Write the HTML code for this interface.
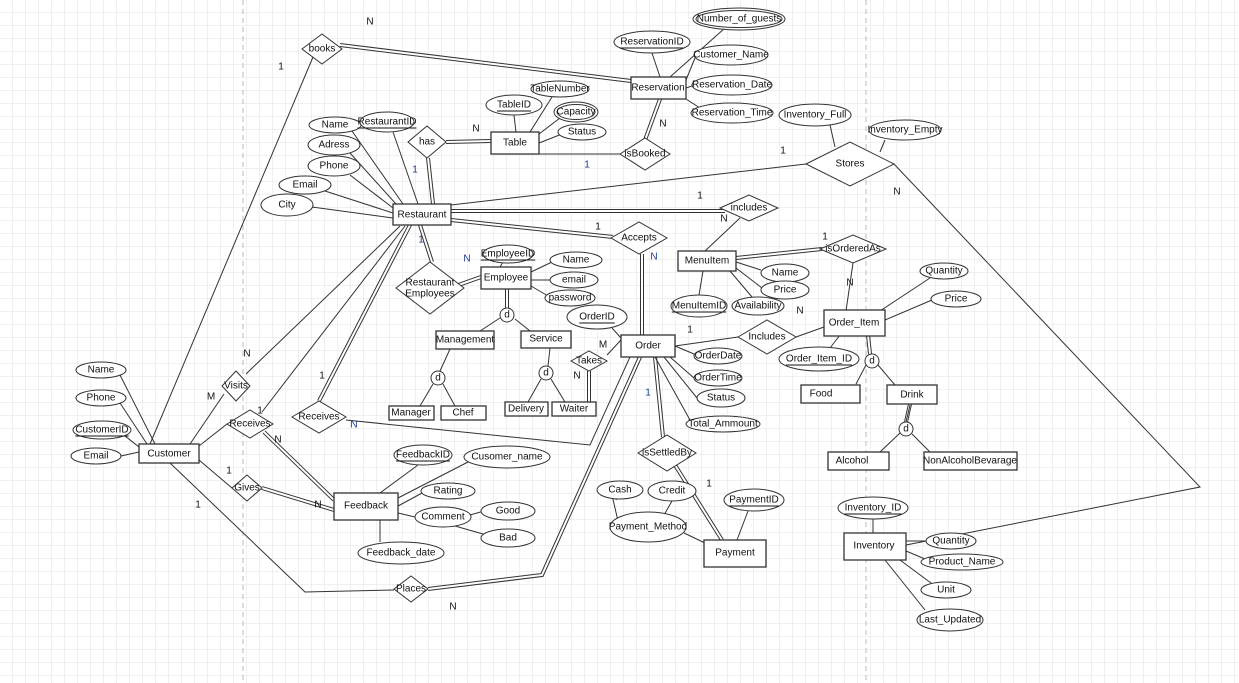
<!DOCTYPE html>
<html><head><meta charset="utf-8"><style>
html,body{margin:0;padding:0;background:#fff;}
svg{display:block;font-family:"Liberation Sans",sans-serif;font-size:10px;}
.l{stroke:#333;stroke-width:1;fill:none;}
.d1{stroke:#333;stroke-width:4;fill:none;}
.d2{stroke:#fff;stroke-width:2;fill:none;}
.e{fill:#fff;stroke:#333;stroke-width:1;}
.r{fill:#fff;stroke:#333;stroke-width:1.3;}
text{text-anchor:middle;dominant-baseline:central;fill:#111;}
.lb{font-size:10px;}
.n{fill:#1a3a8a;font-size:10px;}
.o{fill:#333;}
</style></head><body>
<svg width="1239" height="683" viewBox="0 0 1239 683">
<defs>
<pattern id="g" width="13" height="13" patternUnits="userSpaceOnUse">
<path d="M13 0V13H0" fill="none" stroke="#e2e2e2" stroke-width="1"/>
</pattern>
</defs>
<rect width="1239" height="683" fill="#fff"/>
<rect width="1239" height="683" fill="url(#g)"/>
<line x1="243" y1="0" x2="243" y2="683" stroke="#bbb" stroke-dasharray="5,4"/>
<line x1="866" y1="0" x2="866" y2="683" stroke="#bbb" stroke-dasharray="5,4"/>

<!-- double lines -->
<g>
<path class="d1" d="M340,45L631,81 M428,158L433,204 M446,142L491,141 M660,99L645,140 M420,225L432,262 M451,211L725,211 M451,220L613,237 M642,254L642,335 M736,258L822,249 M868,335L870,354 M910,404L906,422 M655,357L663,437 M675,465L722,540 M640,357L542,575L428,589 M410,225L319,401 M264,432L334,500 M262,488L334,510 M481,277L450,288 M507,289L507,308 M589,371L589,402"/>
<path class="d2" d="M340,45L631,81 M428,158L433,204 M446,142L491,141 M660,99L645,140 M420,225L432,262 M451,211L725,211 M451,220L613,237 M642,254L642,335 M736,258L822,249 M868,335L870,354 M910,404L906,422 M655,357L663,437 M675,465L722,540 M640,357L542,575L428,589 M410,225L319,401 M264,432L334,500 M262,488L334,510 M481,277L450,288 M507,289L507,308 M589,371L589,402"/>
</g>
<!-- single lines -->
<path class="l" d="
M652,53L660,77 M725,28L670,77 M695,58L686,80 M692,86L686,88 M700,108L686,99
M313,57L150,444 M539,154L620,154
M514,115L516,132 M552,97L530,132 M560,118L539,134 M562,134L539,143
M352,131L403,204 M393,132L418,204 M350,153L396,204 M350,175L393,208 M325,191L393,213 M312,207L393,218
M451,205L806,164 M830,125L835,147 M885,140L880,152 M894,164L1200,487L906,545
M740,218L705,251
M761,270L736,262 M762,288L736,268 M699,295L703,271 M752,297L730,271
M853,263L846,311 M930,278L880,311 M932,300L885,320 M830,348L840,335
M866,365L856,384 M878,365L895,385 M900,433L880,452 M912,434L930,452
M738,337L675,346 M796,337L824,327
M612,328L621,338 M694,354L675,346 M694,378L670,357 M697,398L664,357 M690,420L655,357
M630,357L590,445L346,420
M394,590L305,592L170,463
M400,226L246,374 M224,394L190,444 M405,226L262,412 M227,424L199,446 M232,488L199,460
M418,465L380,493 M468,462L398,498 M424,492L398,506 M415,517L398,513 M470,515L484,511 M455,526L490,536 M380,542L380,519
M120,375L155,444 M120,403L147,444 M125,436L139,447 M121,456L139,452
M503,262L500,267 M552,262L531,272 M550,280L531,280 M548,296L531,286
M500,318L480,331 M515,319L530,331 M450,349L440,371 M433,384L420,406 M443,384L455,406 M550,348L548,366 M541,379L528,402 M551,379L565,402
M621,340L607,355 M612,495L618,521 M672,501L664,515 M684,533L705,543 M748,511L737,540 M622,487L616,500
M873,519L873,533 M906,541L925,541 M906,551L925,559 M900,560L935,586 M885,560L925,610
"/>
<path class="l" d="M910,405L906,422"/>

<!-- ellipses -->
<g>
<ellipse class="e" cx="739" cy="19" rx="46" ry="11"/><ellipse class="e" cx="739" cy="19" rx="43" ry="8.5"/>
<ellipse class="e" cx="652" cy="42" rx="38" ry="11"/>
<ellipse class="e" cx="731" cy="55" rx="37" ry="10"/>
<ellipse class="e" cx="732" cy="85" rx="40" ry="10"/>
<ellipse class="e" cx="732" cy="113" rx="41" ry="10"/>
<ellipse class="e" cx="560" cy="89" rx="29" ry="8"/>
<ellipse class="e" cx="514" cy="105" rx="28" ry="10"/>
<ellipse class="e" cx="576" cy="112" rx="22" ry="10"/><ellipse class="e" cx="576" cy="112" rx="19" ry="7.5"/>
<ellipse class="e" cx="582" cy="132" rx="24" ry="8"/>
<ellipse class="e" cx="335" cy="125" rx="26" ry="8"/>
<ellipse class="e" cx="387" cy="122" rx="27" ry="10"/>
<ellipse class="e" cx="334" cy="145" rx="26" ry="10"/>
<ellipse class="e" cx="334" cy="166" rx="26" ry="10"/>
<ellipse class="e" cx="305" cy="185" rx="26" ry="9"/>
<ellipse class="e" cx="287" cy="205" rx="26" ry="11"/>
<ellipse class="e" cx="815" cy="115" rx="36" ry="11"/>
<ellipse class="e" cx="905" cy="130" rx="36" ry="10"/>
<ellipse class="e" cx="508" cy="254" rx="25" ry="9"/>
<ellipse class="e" cx="576" cy="260" rx="26" ry="8"/>
<ellipse class="e" cx="574" cy="280" rx="24" ry="8"/>
<ellipse class="e" cx="570" cy="298" rx="25" ry="8"/>
<ellipse class="e" cx="597" cy="317" rx="30" ry="12"/>
<ellipse class="e" cx="785" cy="273" rx="24" ry="9"/>
<ellipse class="e" cx="785" cy="290" rx="24" ry="9"/>
<ellipse class="e" cx="699" cy="306" rx="28" ry="11"/>
<ellipse class="e" cx="758" cy="306" rx="26" ry="9"/>
<ellipse class="e" cx="944" cy="271" rx="24" ry="8"/>
<ellipse class="e" cx="956" cy="299" rx="25" ry="8"/>
<ellipse class="e" cx="819" cy="359" rx="40" ry="12"/>
<ellipse class="e" cx="718" cy="356" rx="24" ry="8"/>
<ellipse class="e" cx="718" cy="378" rx="24" ry="8"/>
<ellipse class="e" cx="721" cy="398" rx="24" ry="9"/>
<ellipse class="e" cx="723" cy="424" rx="37" ry="8"/>
<ellipse class="e" cx="423" cy="455" rx="29" ry="10"/>
<ellipse class="e" cx="507" cy="457" rx="43" ry="11"/>
<ellipse class="e" cx="448" cy="491" rx="27" ry="8"/>
<ellipse class="e" cx="443" cy="517" rx="28" ry="10"/>
<ellipse class="e" cx="508" cy="511" rx="27" ry="9"/>
<ellipse class="e" cx="508" cy="538" rx="27" ry="9"/>
<ellipse class="e" cx="401" cy="553" rx="43" ry="11"/>
<ellipse class="e" cx="101" cy="370" rx="25" ry="8"/>
<ellipse class="e" cx="101" cy="398" rx="25" ry="8"/>
<ellipse class="e" cx="102" cy="430" rx="29" ry="9"/>
<ellipse class="e" cx="96" cy="456" rx="25" ry="8"/>
<ellipse class="e" cx="620" cy="490" rx="23" ry="9"/>
<ellipse class="e" cx="672" cy="491" rx="24" ry="10"/>
<ellipse class="e" cx="754" cy="500" rx="30" ry="11"/>
<ellipse class="e" cx="648" cy="527" rx="38" ry="15"/>
<ellipse class="e" cx="873" cy="508" rx="35" ry="11"/>
<ellipse class="e" cx="951" cy="541" rx="25" ry="8"/>
<ellipse class="e" cx="962" cy="562" rx="41" ry="8"/>
<ellipse class="e" cx="946" cy="590" rx="25" ry="8"/>
<ellipse class="e" cx="950" cy="620" rx="33" ry="11"/>
</g>

<!-- diamonds -->
<g class="e">
<polygon class="e" points="302,49 322,34 342,49 322,64"/>
<polygon class="e" points="408,142 427,126 446,142 427,158"/>
<polygon class="e" points="620,154 645,138 670,154 645,170"/>
<polygon class="e" points="806,164 850,142 894,164 850,186"/>
<polygon class="e" points="720,208 749,195 778,208 749,221"/>
<polygon class="e" points="611,238 639,222 667,238 639,254"/>
<polygon class="e" points="820,249 853,235 886,249 853,263"/>
<polygon class="e" points="396,288 430,262 464,288 430,314"/>
<polygon class="e" points="738,337 767,320 796,337 767,354"/>
<polygon class="e" points="571,361 589,351 607,361 589,371"/>
<polygon class="e" points="222,386 236,371 250,386 236,401"/>
<polygon class="e" points="227,424 250,410 273,424 250,438"/>
<polygon class="e" points="292,417 319,401 346,417 319,433"/>
<polygon class="e" points="638,453 667,435 696,453 667,471"/>
<polygon class="e" points="232,488 247,475 262,488 247,501"/>
<polygon class="e" points="394,589 411,576 428,589 411,602"/>
</g>

<!-- circles -->
<g>
<circle class="e" cx="507" cy="315" r="7"/>
<circle class="e" cx="438" cy="378" r="7"/>
<circle class="e" cx="546" cy="373" r="7"/>
<circle class="e" cx="872" cy="361" r="7"/>
<circle class="e" cx="906" cy="429" r="7"/>
</g>

<!-- entities -->
<g>
<rect class="r" x="631" y="77" width="55" height="22"/>
<rect class="r" x="491" y="132" width="48" height="22"/>
<rect class="r" x="393" y="204" width="58" height="21"/>
<rect class="r" x="481" y="267" width="50" height="22"/>
<rect class="r" x="678" y="251" width="58" height="20"/>
<rect class="r" x="436" y="331" width="58" height="18"/>
<rect class="r" x="521" y="331" width="50" height="17"/>
<rect class="r" x="621" y="335" width="54" height="22"/>
<rect class="r" x="824" y="310" width="61" height="26"/>
<rect class="r" x="389" y="406" width="45" height="14"/>
<rect class="r" x="441" y="406" width="45" height="14"/>
<rect class="r" x="505" y="402" width="43" height="14"/>
<rect class="r" x="552" y="402" width="44" height="14"/>
<rect class="r" x="801" y="385" width="59" height="18"/>
<rect class="r" x="887" y="385" width="50" height="19"/>
<rect class="r" x="828" y="452" width="61" height="18"/>
<rect class="r" x="924" y="452" width="93" height="18"/>
<rect class="r" x="139" y="444" width="60" height="19"/>
<rect class="r" x="334" y="493" width="64" height="27"/>
<rect class="r" x="704" y="540" width="62" height="27"/>
<rect class="r" x="844" y="533" width="62" height="27"/>
</g>

<!-- texts -->
<g class="lb">
<text x="739" y="19">Number_of_guests</text>
<text x="652" y="42" text-decoration="underline">ReservationID</text>
<text x="731" y="55">Customer_Name</text>
<text x="732" y="85">Reservation_Date</text>
<text x="732" y="113">Reservation_Time</text>
<text x="560" y="89">TableNumber</text>
<text x="514" y="105" text-decoration="underline">TableID</text>
<text x="576" y="112">Capacity</text>
<text x="582" y="132">Status</text>
<text x="335" y="125">Name</text>
<text x="387" y="122" text-decoration="underline">RestaurantID</text>
<text x="334" y="145">Adress</text>
<text x="334" y="166">Phone</text>
<text x="305" y="185">Email</text>
<text x="287" y="205">City</text>
<text x="815" y="115">Inventory_Full</text>
<text x="905" y="130">Inventory_Empty</text>
<text x="508" y="254" text-decoration="underline">EmployeeID</text>
<text x="576" y="260">Name</text>
<text x="574" y="280">email</text>
<text x="570" y="298">password</text>
<text x="597" y="317" text-decoration="underline">OrderID</text>
<text x="785" y="273">Name</text>
<text x="785" y="290">Price</text>
<text x="699" y="306" text-decoration="underline">MenuItemID</text>
<text x="758" y="306">Availability</text>
<text x="944" y="271">Quantity</text>
<text x="956" y="299">Price</text>
<text x="819" y="359" text-decoration="underline">Order_Item_ID</text>
<text x="718" y="356">OrderDate</text>
<text x="718" y="378">OrderTime</text>
<text x="721" y="398">Status</text>
<text x="723" y="424">Total_Ammount</text>
<text x="423" y="455" text-decoration="underline">FeedbackID</text>
<text x="507" y="457">Cusomer_name</text>
<text x="448" y="491">Rating</text>
<text x="443" y="517">Comment</text>
<text x="508" y="511">Good</text>
<text x="508" y="538">Bad</text>
<text x="401" y="553">Feedback_date</text>
<text x="101" y="370">Name</text>
<text x="101" y="398">Phone</text>
<text x="102" y="430" text-decoration="underline">CustomerID</text>
<text x="96" y="456">Email</text>
<text x="620" y="490">Cash</text>
<text x="672" y="491">Credit</text>
<text x="754" y="500" text-decoration="underline">PaymentID</text>
<text x="648" y="527">Payment_Method</text>
<text x="873" y="508" text-decoration="underline">Inventory_ID</text>
<text x="951" y="541">Quantity</text>
<text x="962" y="562">Product_Name</text>
<text x="946" y="590">Unit</text>
<text x="950" y="620">Last_Updated</text>

<text x="322" y="49">books</text>
<text x="427" y="142">has</text>
<text x="645" y="154">isBooked</text>
<text x="850" y="164">Stores</text>
<text x="749" y="208">includes</text>
<text x="639" y="238">Accepts</text>
<text x="853" y="249">isOrderedAs</text>
<text x="430" y="283">Restaurant</text>
<text x="430" y="294">Employees</text>
<text x="767" y="337">Includes</text>
<text x="589" y="361">Takes</text>
<text x="236" y="386">Visits</text>
<text x="250" y="424">Receives</text>
<text x="319" y="417">Receives</text>
<text x="667" y="453">isSettledBy</text>
<text x="247" y="488">Gives</text>
<text x="411" y="589">Places</text>

<text x="507" y="315">d</text><text x="438" y="378">d</text><text x="546" y="373">d</text><text x="872" y="361">d</text><text x="906" y="429">d</text>

<text x="658" y="88">Reservation</text>
<text x="515" y="143">Table</text>
<text x="422" y="215">Restaurant</text>
<text x="506" y="278">Employee</text>
<text x="707" y="261">MenuItem</text>
<text x="465" y="340">Management</text>
<text x="546" y="339">Service</text>
<text x="648" y="346">Order</text>
<text x="854" y="323">Order_Item</text>
<text x="411" y="413">Manager</text>
<text x="463" y="413">Chef</text>
<text x="526" y="409">Delivery</text>
<text x="574" y="409">Waiter</text>
<text x="821" y="394">Food</text>
<text x="912" y="395">Drink</text>
<text x="852" y="461">Alcohol</text>
<text x="970" y="461">NonAlcoholBevarage</text>
<text x="169" y="454">Customer</text>
<text x="366" y="506">Feedback</text>
<text x="735" y="553">Payment</text>
<text x="874" y="546">Inventory</text>
</g>

<!-- cardinalities -->
<g class="o">
<text x="370" y="22">N</text><text x="281" y="67">1</text>
<text x="476" y="129">N</text><text x="415" y="170" class="n">1</text>
<text x="663" y="124">N</text><text x="587" y="165" class="n">1</text>
<text x="783" y="151">1</text><text x="897" y="192">N</text>
<text x="700" y="196">1</text><text x="724" y="219">N</text>
<text x="598" y="227">1</text><text x="654" y="257" class="n">N</text>
<text x="825" y="237">1</text><text x="850" y="283">N</text>
<text x="690" y="330">1</text><text x="800" y="311">N</text>
<text x="467" y="259" class="n">N</text><text x="421" y="240" class="n">1</text>
<text x="603" y="345">M</text><text x="577" y="376">N</text>
<text x="648" y="393" class="n">1</text><text x="709" y="484">1</text>
<text x="247" y="354">N</text><text x="211" y="397">M</text>
<text x="322" y="376">1</text><text x="260" y="411">1</text>
<text x="278" y="440">N</text><text x="354" y="425" class="n">N</text>
<text x="229" y="471">1</text><text x="318" y="505">N</text>
<text x="198" y="505">1</text><text x="453" y="607">N</text>
</g>
</svg>
</body></html>
